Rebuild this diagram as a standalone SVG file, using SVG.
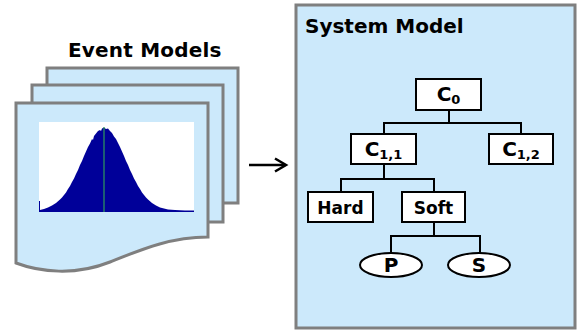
<svg xmlns="http://www.w3.org/2000/svg" width="580" height="330" viewBox="0 0 580 330">
<defs>
<style>
.page{fill:#cce9fb;stroke:#7f7f7f;stroke-width:3;stroke-linejoin:miter}
.title{font-family:"DejaVu Sans",Verdana,sans-serif;font-weight:bold;font-size:20px;fill:#000}
.box{fill:#fff;stroke:#000;stroke-width:2}
.lbl{font-family:"DejaVu Sans",Verdana,sans-serif;font-weight:bold;font-size:17px;fill:#000;text-anchor:middle}
.c{font-size:20px}
.sub{font-size:13px}
.conn{fill:none;stroke:#000;stroke-width:2}
</style>
</defs>
<rect width="580" height="330" fill="#fff"/>

<g id="event-models">
<text class="title" x="68" y="57" letter-spacing="0.2">Event Models</text>
<rect class="page" x="47" y="68" width="191" height="135"/>
<rect class="page" x="32" y="85" width="191" height="137"/>
<path class="page" d="M16,103 H208 V237 C170,237 140,250 110,262 C75,276 40,272 16,263 Z"/>
<rect x="39" y="122" width="155" height="90" fill="#fff"/>
<polygon fill="#000099" points="39,211 39,201 40,201 40,210 44,209 48,207.5 52,205.5 56,203 60,199.5 62,197.5 64,195 66,192.5 68,189 70,186 72,182 74,178.5 76,174 78,170 80,165 82,161 84,156 86,151.5 88,147 90,143.5 92,139 93,140 94,136 96,133.5 98,131 100,130 101,131 102,128.5 104,127.5 106,129 108,128.5 110,131 112,133 114,136.5 116,139 118,143 120,147 122,151.5 124,156 126,161 128,165 130,170 132,174 134,178.5 136,182 138,186 140,189 142,192.5 144,195 146,197.5 148,199.5 152,203 156,205.5 160,207.5 164,208.5 168,209.5 175,210 185,210.5 194,210.5 194,212 39,212"/>
<line x1="104" y1="127" x2="104" y2="212" stroke="#2e9b5a" stroke-width="1.2"/>
</g>

<g id="arrow">
<line x1="249" y1="165" x2="285" y2="165" stroke="#000" stroke-width="2.5"/>
<polyline points="275,158.5 286,165 275,171.5" fill="none" stroke="#000" stroke-width="2.5"/>
</g>

<g id="system-model">
<rect class="page" x="296" y="5" width="279" height="323"/>
<text class="title" x="305" y="33">System Model</text>
</g>

<g id="connectors">
<path class="conn" d="M449,110 V123 M384,123 H521 M384,122 V134 M521,122 V134"/>
<path class="conn" d="M384,164 V179 M341,179 H434 M341,178 V192 M434,178 V192"/>
<path class="conn" d="M434,222 V236 M391,236 H480 M391,235 V253 M480,235 V253"/>
</g>

<g id="node-c0">
<rect class="box" x="416" y="79" width="65" height="31"/>
<text class="lbl c" x="448.5" y="101">C<tspan class="sub" dy="3">0</tspan></text>
</g>
<g id="node-c11">
<rect class="box" x="351" y="134" width="65" height="30"/>
<text class="lbl c" x="383.5" y="156">C<tspan class="sub" dy="3">1,1</tspan></text>
</g>
<g id="node-c12">
<rect class="box" x="489" y="134" width="64" height="30"/>
<text class="lbl c" x="521" y="156">C<tspan class="sub" dy="3">1,2</tspan></text>
</g>
<g id="node-hard">
<rect class="box" x="308" y="192" width="65" height="30"/>
<text class="lbl" x="340.5" y="213.5">Hard</text>
</g>
<g id="node-soft">
<rect class="box" x="402" y="192" width="63" height="30"/>
<text class="lbl" x="433.5" y="213.5" font-size="18">Soft</text>
</g>
<g id="node-p">
<ellipse class="box" cx="391" cy="265" rx="31" ry="12"/>
<text class="lbl c" x="391" y="272">P</text>
</g>
<g id="node-s">
<ellipse class="box" cx="479" cy="265" rx="31" ry="12"/>
<text class="lbl c" x="479" y="272">S</text>
</g>
</svg>
